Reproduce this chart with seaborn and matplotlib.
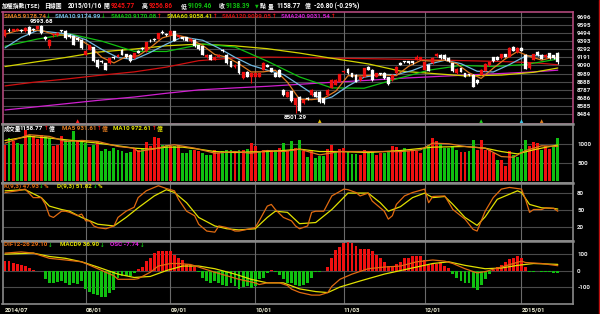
import matplotlib
matplotlib.use("Agg")
import matplotlib.pyplot as plt
import numpy as np
import seaborn as sns

# ================= DATA =================
date_labels = ["2014/07", "08/01", "09/01", "10/01", "11/03", "12/01", "2015/01"]
date_pos = [0, 20, 41, 62, 84, 104, 128]

opens = [9453, 9535, 9525, 9530, 9530, 9516, 9566, 9545, 9550, 9579,
         9440, 9330, 9475, 9470, 9530, 9525, 9474, 9453, 9432, 9412,
         9225, 9285, 9320, 9160, 9145, 9119, 9119, 9195, 9200, 9286,
         9230, 9223, 9180, 9270, 9307, 9270, 9400, 9425, 9425, 9510,
         9480, 9474, 9516, 9440, 9445, 9445, 9390, 9412, 9345,
         9328, 9190, 9223, 9161, 9202, 9286, 9223, 9140, 9065, 9140,
         8931, 9014, 8952, 8952, 8952, 9035, 9098, 9056, 8994, 9035,
         8785, 8701, 8770, 8600, 8700, 8617, 8690, 8722, 8764, 8764,
         8680, 8722, 8815, 8847, 8889, 9010, 9048, 8994, 8973, 8910,
         8952, 9077, 9035, 8952, 8994, 9000, 8940, 8910, 8994, 9119,
         9140, 9140, 9140, 9161, 9161, 9035, 9098, 9119, 9210, 9223,
         9223, 9182, 9119, 8994, 9056, 8994, 8980, 8973, 8910, 8973,
         9027, 9090, 9190, 9202, 9182, 9230, 9200, 9324, 9258, 9307,
         9223, 9056, 9161, 9257, 9223, 9190, 9244, 9215, 9245.77]
closes = [9537, 9525, 9540, 9552, 9516, 9560, 9483, 9530, 9580, 9495,
          9425, 9410, 9485, 9495, 9520, 9432, 9440, 9350, 9412, 9307,
          9270, 9340, 9140, 9077, 9135, 9035, 9180, 9185, 9225, 9223,
          9190, 9140, 9245, 9250, 9290, 9380, 9395, 9410, 9495, 9495,
          9470, 9525, 9400, 9465, 9420, 9400, 9420, 9328, 9290,
          9223, 9223, 9161, 9202, 9223, 9265, 9120, 9077, 9098, 8994,
          9006, 8952, 8994, 8994, 8994, 9120, 9077, 9014, 8952, 8952,
          8722, 8764, 8647, 8680, 8520, 8659, 8670, 8785, 8701, 8630,
          8617, 8785, 8910, 8910, 8980, 9014, 8994, 8952, 8889, 8952,
          9056, 9035, 8910, 8994, 8980, 8931, 8855, 8973, 9077, 9098,
          9130, 9119, 9119, 9202, 9190, 9130, 9023, 9182, 9230, 9182,
          9170, 9140, 9015, 9048, 9014, 8952, 8965, 8826, 8868, 9035,
          9107, 9130, 9140, 9161, 9230, 9202, 9307, 9274, 9307, 9274,
          9048, 9119, 9230, 9215, 9172, 9223, 9182, 9182, 9138.39]
highs = [9552, 9558, 9548, 9560, 9540, 9572, 9585, 9556, 9588, 9593.68,
         9458, 9418, 9498, 9505, 9538, 9532, 9480, 9460, 9440, 9418,
         9280, 9348, 9326, 9170, 9160, 9125, 9188, 9205, 9232, 9290,
         9238, 9230, 9252, 9278, 9315, 9388, 9420, 9438, 9502, 9530,
         9492, 9532, 9522, 9472, 9452, 9450, 9428, 9418, 9352,
         9335, 9230, 9230, 9210, 9230, 9292, 9230, 9148, 9105, 9148,
         9014, 9022, 9002, 9002, 9002, 9128, 9112, 9064, 9002, 9040,
         8792, 8772, 8776, 8690, 8705, 8668, 8698, 8792, 8772, 8770,
         8688, 8792, 8918, 8918, 8988, 9025, 9056, 9002, 8980, 8960,
         9064, 9085, 9042, 9002, 9002, 9008, 8948, 8980, 9085, 9128,
         9150, 9148, 9148, 9215, 9198, 9138, 9105, 9190, 9245, 9230,
         9230, 9190, 9126, 9056, 9064, 9002, 8988, 8980, 8918, 9042,
         9115, 9138, 9198, 9210, 9238, 9238, 9315, 9332, 9315, 9315,
         9230, 9126, 9238, 9265, 9230, 9230, 9252, 9222, 9256.86]
lows = [9440, 9508, 9515, 9522, 9505, 9510, 9475, 9520, 9540, 9488,
        9408, 9310, 9440, 9462, 9510, 9425, 9430, 9345, 9400, 9300,
        9215, 9278, 9135, 9060, 9120, 9030, 9110, 9175, 9192, 9215,
        9182, 9135, 9172, 9242, 9282, 9262, 9380, 9402, 9418, 9488,
        9460, 9468, 9395, 9432, 9412, 9392, 9382, 9320, 9282,
        9218, 9182, 9155, 9155, 9195, 9258, 9112, 9070, 9058, 8988,
        8925, 8945, 8870, 8945, 8945, 9028, 9070, 9008, 8945, 8945,
        8715, 8695, 8640, 8501.29, 8512, 8610, 8662, 8715, 8695, 8622,
        8610, 8715, 8808, 8840, 8882, 9000, 8988, 8945, 8882, 8902,
        8945, 9028, 8902, 8945, 8972, 8924, 8848, 8902, 8988, 9090,
        9122, 9112, 9112, 9155, 9155, 9028, 9015, 9112, 9202, 9175,
        9162, 9132, 9008, 8988, 9008, 8945, 8958, 8818, 8860, 8966,
        9020, 9082, 9132, 9155, 9175, 9195, 9192, 9266, 9250, 9266,
        9040, 9048, 9155, 9208, 9165, 9182, 9175, 9175, 9109.46]

volume = [980, 1161, 1070, 1025, 1007, 1388, 1252, 1224, 1134, 1252,
          1224, 1161, 934, 980, 1224, 1116, 1070, 1342, 1070, 1043,
          1025, 916, 980, 1070, 798, 862, 816, 889, 844, 798,
          753, 771, 889, 844, 889, 1043, 934, 1188, 1161, 980,
          980, 934, 934, 980, 753, 753, 825, 844, 798, 753,
          707, 707, 844, 753, 798, 825, 825, 798, 844, 844,
          862, 1025, 934, 798, 844, 798, 844, 844, 889, 1025,
          798, 1070, 889, 1116,
          798, 662, 825, 617, 680, 680, 862, 980, 798, 862,
          889, 798, 726, 735, 707, 844, 771, 771, 707, 753,
          753, 798, 934, 916, 798, 889, 798, 798, 798, 753,
          889, 980, 1161, 1070, 1007, 889, 889, 934, 825, 771,
          771, 798, 1097, 825, 1097, 844, 825, 753, 571, 571,
          408, 798, 707, 662, 862, 1116, 934, 1043, 1025, 844,
          934, 862, 934, 1158.77]
vol_dir = ("RGRGGRGRRR" "GGRRRGGGRG" "GRGRGGGGGG" "GGRRGRRRRG" "GRGRGGGRRG"
           "GGRRGGGRGR" "GRRGRGRGRG" "RGRG"
           "RGRGGGRRGR" "RGGGRRGGRR" "GGRRRGRRRR" "GGRRGGGGGR" "RGGRRRRRGR"
           "RRGGGGRRRG" "RRGG")

sma_day = [0, 7, 15, 23, 32, 40, 48, 57, 65, 73, 81, 90, 98, 106, 114, 123, 131, 137]
sma60 = [9077, 9130, 9190, 9257, 9295, 9336, 9357, 9335, 9300, 9245, 9180, 9110,
         9020, 8990, 8960, 8970, 9005, 9058.41]
sma120 = [8835, 8880, 8920, 8965, 9010, 9070, 9150, 9185, 9195, 9190, 9182, 9175,
          9168, 9160, 9150, 9140, 9125, 9099.05]
sma240 = [8534, 8570, 8612, 8654, 8696, 8743, 8785, 8810, 8830, 8855, 8880, 8905,
          8930, 8950, 8970, 8990, 9010, 9031.54]
sma20_day = [0, 8, 16, 24, 32, 40, 49, 57, 65, 73, 81, 89, 97, 105, 113, 121, 129, 137]
sma20 = [9330, 9420, 9485, 9394, 9267, 9265, 9358, 9321, 9144, 8947, 8810, 8806,
         8922, 9031, 9091, 9077, 9102, 9170.08]
sma10_day = [0, 4, 8, 12, 16, 20, 24, 28, 32, 36, 40, 44, 49, 53, 57, 61, 65, 69,
             73, 77, 79, 81, 85, 89, 93, 97, 101, 105, 109, 113, 117, 121, 125, 129, 133, 137]
sma10 = [9310, 9440, 9527, 9504, 9481, 9412, 9290, 9189, 9164, 9253, 9357, 9446,
         9405, 9307, 9192, 9093, 9031, 8977, 8845, 8710, 8667, 8696, 8833, 8944,
         8978, 8976, 9028, 9106, 9155, 9113, 9018, 9009, 9101, 9207, 9215, 9174.99]
sma5_day = [0, 3, 6, 9, 12, 15, 18, 21, 24, 27, 30, 33, 36, 39, 42, 45, 49, 52, 55,
            58, 61, 64, 67, 70, 73, 76, 79, 82, 85, 88, 91, 94, 97, 100, 103, 106,
            109, 112, 115, 118, 121, 124, 127, 130, 133, 136, 137]
sma5 = [9480, 9525, 9530, 9530, 9479, 9468, 9431, 9336, 9192, 9122, 9201, 9210,
        9312, 9435, 9477, 9442, 9340, 9227, 9194, 9111, 9009, 9011, 9031, 8881,
        8667, 8663, 8681, 8770, 8962, 8960, 8968, 8970, 8963, 9079, 9152, 9145,
        9157, 9111, 8999, 8929, 9056, 9173, 9264, 9204, 9157, 9195, 9178.74]

vma10_day = [0, 6, 11, 19, 23, 28, 32, 36, 40, 44, 48, 52, 57, 61, 65, 69, 73, 78,
             83, 90, 98, 106, 114, 119, 123, 127, 131, 135, 137]
vma10 = [1095, 1204, 1159, 1068, 1023, 950, 887, 860, 914, 914, 860, 796, 769,
         787, 796, 823, 860, 796, 796, 769, 823, 914, 932, 887, 796, 733, 842, 932, 972.61]
vma5_day = [0, 6, 11, 15, 19, 23, 28, 32, 33, 38, 40, 42, 47, 52, 57, 61, 65, 69,
            73, 78, 83, 90, 98, 103, 106, 110, 114, 119, 123, 126, 129, 133, 137]
vma5 = [1023, 1249, 1204, 1068, 1095, 1068, 932, 887, 796, 887, 950, 978, 887,
        751, 796, 751, 823, 796, 860, 706, 796, 796, 796, 842, 1023, 1005, 932,
        887, 660, 642, 823, 950, 931.61]

k_day = [0, 3, 5, 7, 9, 10, 11, 12, 14, 15, 16, 18, 19, 20, 21, 22, 23, 25, 27, 28,
         30, 32, 33, 35, 37, 38, 40, 42, 43, 45, 47, 48, 50, 52, 53, 55, 57, 58, 60,
         62, 63, 65, 66, 67, 69, 71, 72, 73, 75, 76, 77, 79, 81, 84, 85, 87, 88, 90,
         91, 92, 94, 95, 96, 97, 99, 101, 104, 105, 106, 109, 111, 114, 116, 117,
         119, 121, 123, 125, 128, 129, 130, 131, 133, 134, 136, 137]
k_val = [81, 84, 87, 72, 72, 60, 40, 37, 48, 48, 46, 40, 43, 31, 31, 22, 19, 17,
         22, 37, 48, 55, 72, 84, 90, 93, 88, 84, 69, 48, 40, 25, 13, 11, 22, 19, 13,
         13, 16, 19, 31, 57, 60, 51, 37, 31, 22, 17, 22, 46, 48, 48, 75, 87, 86,
         81, 75, 80, 66, 60, 48, 34, 40, 60, 75, 81, 87, 63, 74, 75, 51, 34, 16,
         13, 48, 72, 87, 90, 87, 69, 46, 51, 51, 54, 53, 47.93]
d_day = [0, 5, 9, 11, 14, 16, 19, 23, 27, 30, 33, 37, 40, 42, 45, 48, 52, 55, 58,
         62, 65, 67, 70, 73, 77, 81, 85, 88, 90, 93, 95, 98, 101, 104, 106, 109,
         111, 114, 117, 119, 122, 127, 128, 130, 133, 136, 137]
d_val = [84, 86, 72, 57, 51, 48, 37, 25, 22, 37, 54, 75, 86, 81, 63, 37, 22, 17,
         15, 17, 37, 48, 46, 26, 28, 51, 80, 80, 80, 63, 48, 56, 72, 80, 72, 74,
         60, 37, 23, 38, 69, 84, 81, 60, 54, 53, 51.82]

dif_day = [0, 4, 7, 11, 15, 19, 23, 27, 28, 32, 33, 36, 38, 41, 43, 46, 48, 52, 55,
           58, 62, 63, 65, 68, 70, 71, 73, 76, 78, 80, 81, 83, 86, 90, 94, 98, 102,
           106, 109, 111, 114, 117, 119, 123, 126, 128, 129, 133, 137]
dif_val = [104, 111, 104, 73, 63, 52, 11, -31, -52, -52, -48, -10, 27, 42, 42, 36,
           21, -10, -31, -52, -73, -83, -73, -73, -89, -110, -130, -146, -146, -131,
           -94, -52, -21, 11, 21, 27, 52, 63, 56, 42, 11, -14, -6, 21, 42, 56, 48,
           42, 29.10]
macd_day = [0, 7, 11, 15, 19, 23, 28, 32, 36, 40, 44, 48, 52, 57, 61, 65, 69, 73,
            77, 80, 83, 88, 94, 98, 102, 106, 110, 114, 119, 123, 127, 131, 137]
macd_val = [98, 104, 84, 73, 52, 21, -21, -41, -35, 0, 27, 27, 11, -21, -52, -73,
            -73, -109, -125, -131, -98, -62, -21, 0, 21, 42, 52, 31, 11, 15, 31, 42, 36.90]
osc = [56, 56, 48, 42, 31, 27, 15, 4, -2, -2,
       -48, -73, -73, -68, -62, -73, -83, -73, -77, -62,
       -110, -125, -139, -146, -156, -156, -135, -114, -42, -31,
       -31, -31, -14, 11, 21, 56, 77, 104, 115, 119,
       115, 115, 90, 73, 63, 42, 36, 21, -10, -42,
       -62, -73, -62, -73, -83, -94, -73, -94, -110, -98,
       -89, -104, -94, -52, -42, -14, 6, -6, -27, -52,
       -73, -73, -83, -94,
       -83, -73, -42, -10, -6, -2, 21, 73, 125, 140,
       167, 173, 164, 146, 131, 131, 131, 115, 94, 73,
       52, 27, 27, 42, 52, 73, 77, 84, 84, 84,
       63, 31, 42, 42, 52, 27, 15, -21, -42, -62,
       -73, -73, -104, -114, -83, -52, -21, 6, 21, 36,
       52, 69, 77, 84, 73, 21, -10, -6, -2, -6,
       -10, -10, -14, -15]

event_day = [18, 78, 118, 128, 133]
event_col = ["#ff2020", "#e8c000", "#20d020", "#40c8e8", "#e08020"]

# ================= STYLE =================
sns.set_theme(style="dark")
TXT = ["Roboto", "DejaVu Sans"]
CJK = ["Noto Sans CJK TC", "DejaVu Sans"]
ARW = ["DejaVu Sans"]
plt.rcParams.update({
    "font.family": TXT,
    "font.weight": "bold",
    "axes.facecolor": "black",
    "figure.facecolor": "black",
    "savefig.facecolor": "black",
})

RED = "#f01010"
GREEN = "#10c010"
WHITE = "#ffffff"
GRID = "#4a4a4a"
VGRID = "#6a6a6a"
LBL = "#e8e8e8"
FS = 4.5
TS = 4.7
CS = 4.2
AS = 4.0

W, H = 600.0, 314.0
fig = plt.figure(figsize=(6.0, 3.14), dpi=100)


def axes_px(x0, y0, x1, y1):
    return fig.add_axes([x0 / W, 1 - y1 / H, (x1 - x0) / W, (y1 - y0) / H])


def ftext(x, y, s, color, size=FS, family=None, ha="left"):
    fig.text(x / W, 1 - y / H, s, color=color, fontsize=size, ha=ha, va="center",
             fontweight="bold", family=family if family else TXT)


XMIN, XMAX = (2.5 - 5) / 4.035, (573 - 5) / 4.035

ax_p = axes_px(2.5, 11.7, 573, 124)
ax_v = axes_px(2.5, 124, 573, 183)
ax_k = axes_px(2.5, 183, 573, 240.5)
ax_m = axes_px(2.5, 240.5, 573, 303.5)

for ax, ylim, ticks, spc in [
    (ax_p, (8359, 9762), [8484 + 101 * i for i in range(13)], "#b0487a"),
    (ax_v, (-52, 1538), [500, 1000], "#8a8a8a"),
    (ax_k, (-3.7, 97.8), [20, 50, 80], "#8a8a8a"),
    (ax_m, (-196, 179), [-100, 0, 100], "#8a8a8a"),
]:
    ax.set_facecolor("black")
    ax.set_xlim(XMIN, XMAX)
    ax.set_ylim(*ylim)
    ax.yaxis.tick_right()
    ax.set_yticks(ticks)
    ax.set_yticklabels([str(t) for t in ticks])
    ax.tick_params(axis="y", length=0, pad=3, labelsize=FS, labelcolor=LBL)
    ax.set_xticks([])
    ax.grid(False)
    for t in ticks:
        ax.axhline(t, color=GRID, lw=0.8, zorder=0)
    for p in date_pos[1:]:
        ax.axvline(p, color=VGRID, lw=0.8, zorder=0)
    for s in ax.spines.values():
        s.set_color(spc)
        s.set_linewidth(1.2)
    ax.set_xlabel("")
    ax.set_ylabel("")

for ax in (ax_v, ax_k, ax_m):
    ax.spines["top"].set_linewidth(1.8)

# ---- price panel ----
days = np.arange(len(closes))
o = np.array(opens, float)
c = np.array(closes, float)
hi = np.array(highs, float)
lo = np.array(lows, float)
cc = np.where(c >= o, RED, WHITE)

lines_p = [
    (sma_day, sma240, "#d020d0"),
    (sma_day, sma120, "#d01010"),
    (sma_day, sma60, "#d4d400"),
    (sma20_day, sma20, "#10c010"),
    (sma10_day, sma10, "#70b8e0"),
    (sma5_day, sma5, "#e07a20"),
]
for xd, yd, col in lines_p:
    sns.lineplot(x=xd, y=yd, ax=ax_p, color=col, lw=0.9, legend=False, zorder=2)

ax_p.vlines(days, lo, hi, colors=cc, lw=0.8, zorder=3)
ax_p.bar(days, np.maximum(np.abs(c - o), 7), bottom=np.minimum(o, c), width=0.72,
         color=cc, edgecolor=cc, lw=0.2, zorder=4)

ax_p.text(9, 9640, "9593.68", color=WHITE, fontsize=FS, ha="center", va="center",
          fontweight="bold")
ax_p.text(72, 8435, "8501.29", color=WHITE, fontsize=FS, ha="center", va="center",
          fontweight="bold")
ax_p.scatter(event_day, [8395] * len(event_day), c=event_col, marker="^", s=7,
             linewidths=0, zorder=5)

# ---- volume panel ----
vcol = [RED if d == "R" else GREEN for d in vol_dir]
ax_v.bar(np.arange(len(volume)), volume, width=0.72, color=vcol, lw=0, zorder=3)
sns.lineplot(x=vma10_day, y=vma10, ax=ax_v, color="#e0e000", lw=0.9, legend=False, zorder=4)
sns.lineplot(x=vma5_day, y=vma5, ax=ax_v, color="#e07a20", lw=0.9, legend=False, zorder=4)

# ---- KD panel ----
sns.lineplot(x=d_day, y=d_val, ax=ax_k, color="#e0e000", lw=0.9, legend=False, zorder=3)
sns.lineplot(x=k_day, y=k_val, ax=ax_k, color="#e06a10", lw=0.9, legend=False, zorder=4)

# ---- MACD panel ----
ocol = [RED if v >= 0 else GREEN for v in osc]
ax_m.bar(np.arange(len(osc)), osc, width=0.72, color=ocol, lw=0, zorder=3)
sns.lineplot(x=macd_day, y=macd_val, ax=ax_m, color="#e0e000", lw=0.9, legend=False, zorder=4)
sns.lineplot(x=dif_day, y=dif_val, ax=ax_m, color="#e06a10", lw=0.9, legend=False, zorder=5)
ax_m.set_xticks(date_pos)
ax_m.set_xticklabels(date_labels, ha="left")
ax_m.tick_params(axis="x", length=2.5, width=0.8, color="#e8d000", labelsize=FS,
                 labelcolor="#f0f0d8", pad=0.3)

# ---- header texts ----
TY = 6
ftext(2, TY, "加權指數(TSE)", WHITE, size=CS, family=CJK)
ftext(44, TY, "日線圖", WHITE, size=CS, family=CJK)
ftext(68, TY, "2015/01/16", WHITE, size=TS)
ftext(104, TY, "開", WHITE, size=CS, family=CJK)
ftext(111, TY, "9245.77", RED, size=TS)
ftext(142, TY, "高", WHITE, size=CS, family=CJK)
ftext(149, TY, "9256.86", RED, size=TS)
ftext(181, TY, "低", WHITE, size=CS, family=CJK)
ftext(188, TY, "9109.46", GREEN, size=TS)
ftext(219, TY, "收", WHITE, size=CS, family=CJK)
ftext(226, TY, "9138.39", GREEN, size=TS)
ftext(255, TY, "▼", GREEN, size=3.4, family=ARW)
ftext(260, TY, "點", WHITE, size=CS, family=CJK)
ftext(268, TY, "量", WHITE, size=CS, family=CJK)
ftext(276, TY, "1158.77", WHITE, size=TS)
ftext(305, TY, "億", WHITE, size=CS, family=CJK)
ftext(314, TY, "-26.80 (-0.29%)", WHITE, size=TS)

LY = 16
ftext(4, LY, "SMA5 9178.74", "#e07a20")
ftext(46, LY, "↓", GREEN, size=AS, family=ARW)
ftext(55, LY, "SMA10 9174.99", "#70b8e0")
ftext(101, LY, "↓", GREEN, size=AS, family=ARW)
ftext(111, LY, "SMA20 9170.08", "#10c010")
ftext(157, LY, "↑", RED, size=AS, family=ARW)
ftext(167, LY, "SMA60 9058.41", "#d4d400")
ftext(213, LY, "↑", RED, size=AS, family=ARW)
ftext(222, LY, "SMA120 9099.05", "#d01010")
ftext(272, LY, "↑", RED, size=AS, family=ARW)
ftext(281, LY, "SMA240 9031.54", "#d020d0")
ftext(331, LY, "↑", RED, size=AS, family=ARW)

VY = 129
ftext(4, VY, "成交量", WHITE, size=CS, family=CJK)
ftext(20, VY, "1158.77", WHITE)
ftext(44, VY, "↑", RED, size=AS, family=ARW)
ftext(49, VY, "億", WHITE, size=CS, family=CJK)
ftext(62, VY, "MA5 931.61", "#e07a20")
ftext(97, VY, "↑", RED, size=AS, family=ARW)
ftext(102, VY, "億", "#e07a20", size=CS, family=CJK)
ftext(113, VY, "MA10 972.61", "#e0e000")
ftext(152, VY, "↑", RED, size=AS, family=ARW)
ftext(157, VY, "億", "#e0e000", size=CS, family=CJK)

KY = 186.5
ftext(4, KY, "K(9,3) 47.93", "#e06a10")
ftext(39, KY, "↓", GREEN, size=AS, family=ARW)
ftext(44, KY, "%", "#e06a10")
ftext(57, KY, "D(9,3) 51.82", "#e0e000")
ftext(92.5, KY, "↓", GREEN, size=AS, family=ARW)
ftext(97.5, KY, "%", "#e0e000")

MY = 245
ftext(4, MY, "DIF12-26 29.10", "#e06a10")
ftext(48, MY, "↓", GREEN, size=AS, family=ARW)
ftext(60, MY, "MACD9 36.90", "#e0e000")
ftext(100, MY, "↓", GREEN, size=AS, family=ARW)
ftext(110, MY, "OSC -7.74", "#e020e0")
ftext(139.5, MY, "↓", GREEN, size=AS, family=ARW)

# right edge red line
fig.add_artist(plt.Line2D([598.5 / W, 598.5 / W], [0, 1], color="#c01010", lw=1.0))

fig.savefig("out.png", dpi=100, facecolor="black")
